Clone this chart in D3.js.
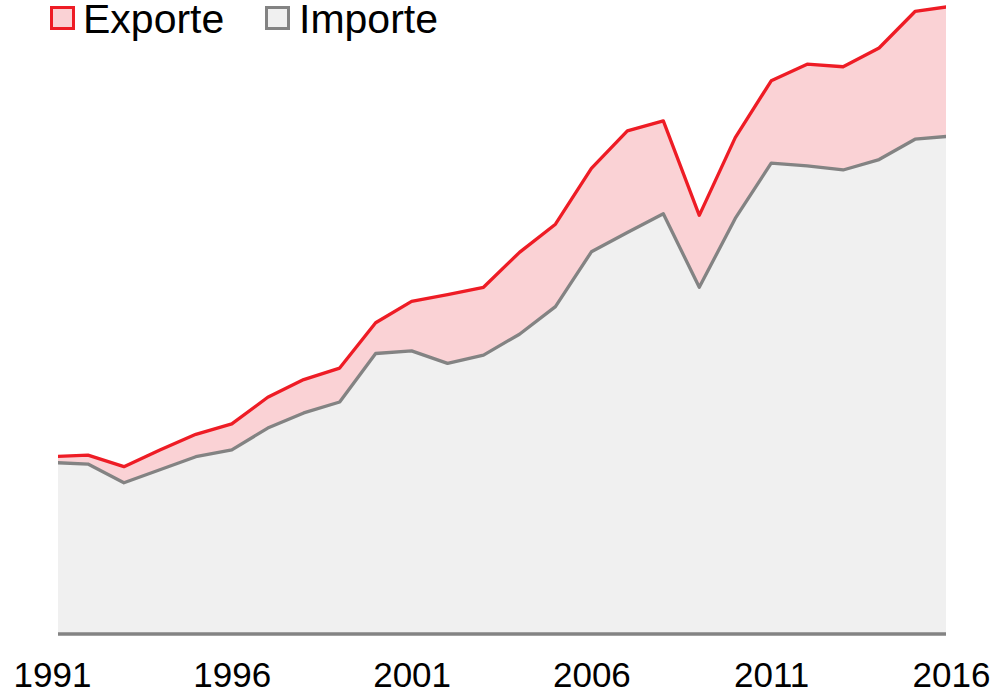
<!DOCTYPE html>
<html>
<head>
<meta charset="utf-8">
<script src="https://cdn.jsdelivr.net/npm/d3@7"></script>
<style>
  body { margin: 0; background: #ffffff; }
  svg text { font-family: "Liberation Sans", Arial, sans-serif; fill: #000; }
</style>
</head>
<body>
<svg id="chart" width="996" height="693"></svg>
<script>
// Außenhandel Deutschland, Mrd. Euro
var years = [1991,1992,1993,1994,1995,1996,1997,1998,1999,2000,2001,2002,2003,2004,2005,2006,2007,2008,2009,2010,2011,2012,2013,2014,2015,2016];
var exporte = [340,343,321,353,383,403,454,488,510,597,638,651,665,732,786,893,965,984,803,952,1061,1093,1088,1124,1194,1204];
var importe = [329,326,290,315,340,353,395,424,445,538,543,519,535,575,628,733,770,806,665,797,903,898,890,910,949,955];
var tickYears = [1991,1996,2001,2006,2011,2016];
var seriesNames = ["Exporte","Importe"];

var chartWidth = 996;
var chartHeight = 693;
var baseY = 634;

var red = "#ee1c25";
var pink = "#fad2d5";
var grey = "#838383";
var lightGrey = "#f0f0f0";

var xScale = d3.scaleLinear()
.domain([1991,2016])
.range([52,951]);

var yScale = d3.scaleLinear()
.domain([0,1216])
.range([baseY,0]);

var svg = d3.select("#chart");

svg.append("clipPath")
.attr("id","plotClip")
.append("rect")
.attr("x",58)
.attr("y",0)
.attr("width",946 - 58)
.attr("height",baseY + 2);

var plot = svg.append("g")
.attr("clip-path","url(#plotClip)");

var exportArea = d3.area()
.x(function(d,i){ return xScale(years[i]); })
.y0(baseY)
.y1(function(d){ return yScale(d); });

var importArea = d3.area()
.x(function(d,i){ return xScale(years[i]); })
.y0(baseY)
.y1(function(d){ return yScale(d); });

var lineGen = d3.line()
.x(function(d,i){ return xScale(years[i]); })
.y(function(d){ return yScale(d); });

plot.append("path")
.datum(exporte)
.attr("d",exportArea)
.attr("fill",pink);

plot.append("path")
.datum(importe)
.attr("d",importArea)
.attr("fill",lightGrey);

plot.append("path")
.datum(exporte)
.attr("d",lineGen)
.attr("fill","none")
.attr("stroke",red)
.attr("stroke-width",3.3)
.attr("stroke-linejoin","round");

plot.append("path")
.datum(importe)
.attr("d",lineGen)
.attr("fill","none")
.attr("stroke",grey)
.attr("stroke-width",3.3)
.attr("stroke-linejoin","round");

//baseline
svg.append("line")
.attr("x1",58)
.attr("x2",946)
.attr("y1",baseY)
.attr("y2",baseY)
.attr("stroke",grey)
.attr("stroke-width",3.5);

//x axis labels
var xAxis = d3.axisBottom(xScale)
.tickValues(tickYears)
.tickFormat(d3.format("d"))
.tickSize(0)
.tickPadding(0);

var axisG = svg.append("g")
.attr("transform","translate(0,662)")
.call(xAxis);

axisG.select(".domain").remove();
axisG.selectAll("text")
.attr("dy","0.71em")
.style("font-size","35px")
.style("font-family","'Liberation Sans', Arial, sans-serif")
.attr("fill","#000");

//legend
var legendX = [50,265];
var legendFill = [pink,lightGrey];
var legendStroke = [red,grey];

var legend = svg.append("g");
seriesNames.forEach(function(name,i){
    legend.append("rect")
    .attr("x",legendX[i] + 1.5)
    .attr("y",7.5)
    .attr("width",22)
    .attr("height",21)
    .attr("fill",legendFill[i])
    .attr("stroke",legendStroke[i])
    .attr("stroke-width",3);

    legend.append("text")
    .attr("x",legendX[i] + (i == 0 ? 33 : 34))
    .attr("y",33)
    .style("font-size","41px")
    .text(name);
});
</script>
</body>
</html>
